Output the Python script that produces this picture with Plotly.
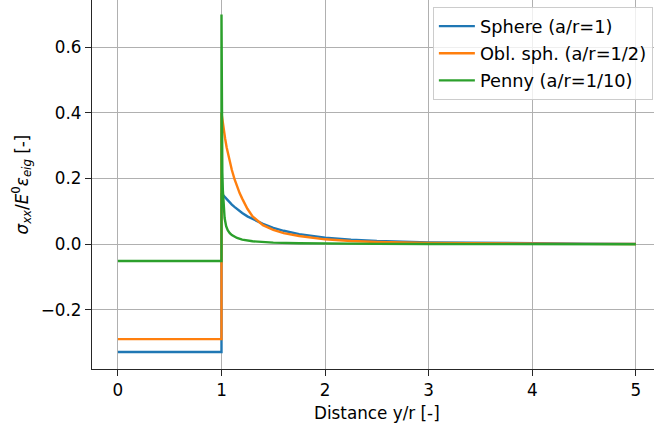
import plotly.graph_objects as go

# ---- data ----
x_inside = [0.0, 1.0]
sphere_inside = [-0.328, -0.328]
obl_inside = [-0.289, -0.289]
penny_inside = [-0.051, -0.051]

x_sphere_out = [1.0, 1.025, 1.05, 1.075, 1.1, 1.125, 1.15, 1.2, 1.25, 1.3, 1.35, 1.4, 1.5, 1.6, 1.75, 2.0, 2.25, 2.5, 3.0, 3.5, 4.0, 4.5, 5.0]
sphere_out = [0.155, 0.146, 0.137, 0.129, 0.121, 0.114, 0.107, 0.095, 0.085, 0.077, 0.069, 0.062, 0.050, 0.041, 0.031, 0.020, 0.014, 0.010, 0.0058, 0.0037, 0.0025, 0.0017, 0.0012]

x_obl_out = [1.0, 1.01, 1.02, 1.035, 1.05, 1.075, 1.1, 1.125, 1.15, 1.175, 1.2, 1.25, 1.3, 1.35, 1.4, 1.5, 1.6, 1.75, 2.0, 2.25, 2.5, 3.0, 3.5, 4.0, 4.5, 5.0]
obl_out = [0.40, 0.375, 0.352, 0.322, 0.295, 0.258, 0.226, 0.199, 0.176, 0.156, 0.139, 0.108, 0.085, 0.070, 0.058, 0.044, 0.034, 0.025, 0.015, 0.010, 0.007, 0.004, 0.0025, 0.0017, 0.0012, 0.0008]

x_penny_out = [1.0, 1.003, 1.008, 1.013, 1.02, 1.03, 1.045, 1.06, 1.08, 1.1, 1.15, 1.2, 1.3, 1.4, 1.5, 1.75, 2.0, 2.5, 3.0, 4.0, 5.0]
penny_out = [0.70, 0.35, 0.22, 0.165, 0.12, 0.08, 0.055, 0.043, 0.034, 0.028, 0.019, 0.014, 0.009, 0.0065, 0.005, 0.003, 0.002, 0.001, 0.0006, 0.0003, 0.0002]

names = ["Sphere (a/r=1)", "Obl. sph. (a/r=1/2)", "Penny (a/r=1/10)"]
colors = ["#1f77b4", "#ff7f0e", "#2ca02c"]

x_ticks = [0, 1, 2, 3, 4, 5]
y_ticks = [-0.2, 0.0, 0.2, 0.4, 0.6]

FONT = "DejaVu Sans"
FS = 16.8
LFS = 17.8

fig = go.Figure()
series = [
    (x_sphere_out, sphere_inside, sphere_out),
    (x_obl_out, obl_inside, obl_out),
    (x_penny_out, penny_inside, penny_out),
]
for i, ((xo, yin, yout), name, c) in enumerate(zip(series, names, colors)):
    fig.add_trace(go.Scatter(
        x=x_inside + xo, y=yin + yout, mode="lines", name=name,
        legendgroup="g%d" % i,
        line=dict(color=c, width=2.4),
    ))

axis_common = dict(
    showgrid=True, gridcolor="#b0b0b0", gridwidth=1.2,
    showline=True, linecolor="#262626", linewidth=1.4,
    ticks="outside", ticklen=6, tickwidth=1.3, tickcolor="#262626",
    zeroline=False, mirror=False,
    tickfont=dict(family=FONT, size=FS, color="black"),
)

fig.update_layout(
    width=654, height=430,
    margin=dict(l=92, r=0, t=0, b=61),
    paper_bgcolor="white", plot_bgcolor="white",
    font=dict(family=FONT, size=FS, color="black"),
    xaxis=dict(range=[-0.25, 5.175], tickvals=x_ticks, **axis_common),
    yaxis=dict(range=[-0.380, 0.744], tickvals=y_ticks, tickformat=".1f", **axis_common),
    legend=dict(
        x=0.998, y=0.981, xanchor="right", yanchor="top",
        bgcolor="rgba(255,255,255,0.8)", bordercolor="#cccccc", borderwidth=1,
        font=dict(family=FONT, size=LFS, color="black"),
        itemwidth=36, tracegroupgap=1,
    ),
    showlegend=True,
    annotations=[
        dict(text="Distance y/r [-]", x=0.507, y=0, xref="paper", yref="paper",
             xanchor="center", yanchor="middle", yshift=-44, showarrow=False,
             font=dict(family=FONT, size=FS, color="black")),
        dict(text="<i>σ<sub>xx</sub></i>/<i>E</i><sup>0</sup><i>ε<sub>eig</sub></i> [-]",
             x=(22 - 92) / 562, y=0.5, xref="paper", yref="paper",
             xanchor="center", yanchor="middle", textangle=-90, showarrow=False,
             font=dict(family=FONT, size=FS, color="black")),
    ],
)

fig.write_html("out.html")
